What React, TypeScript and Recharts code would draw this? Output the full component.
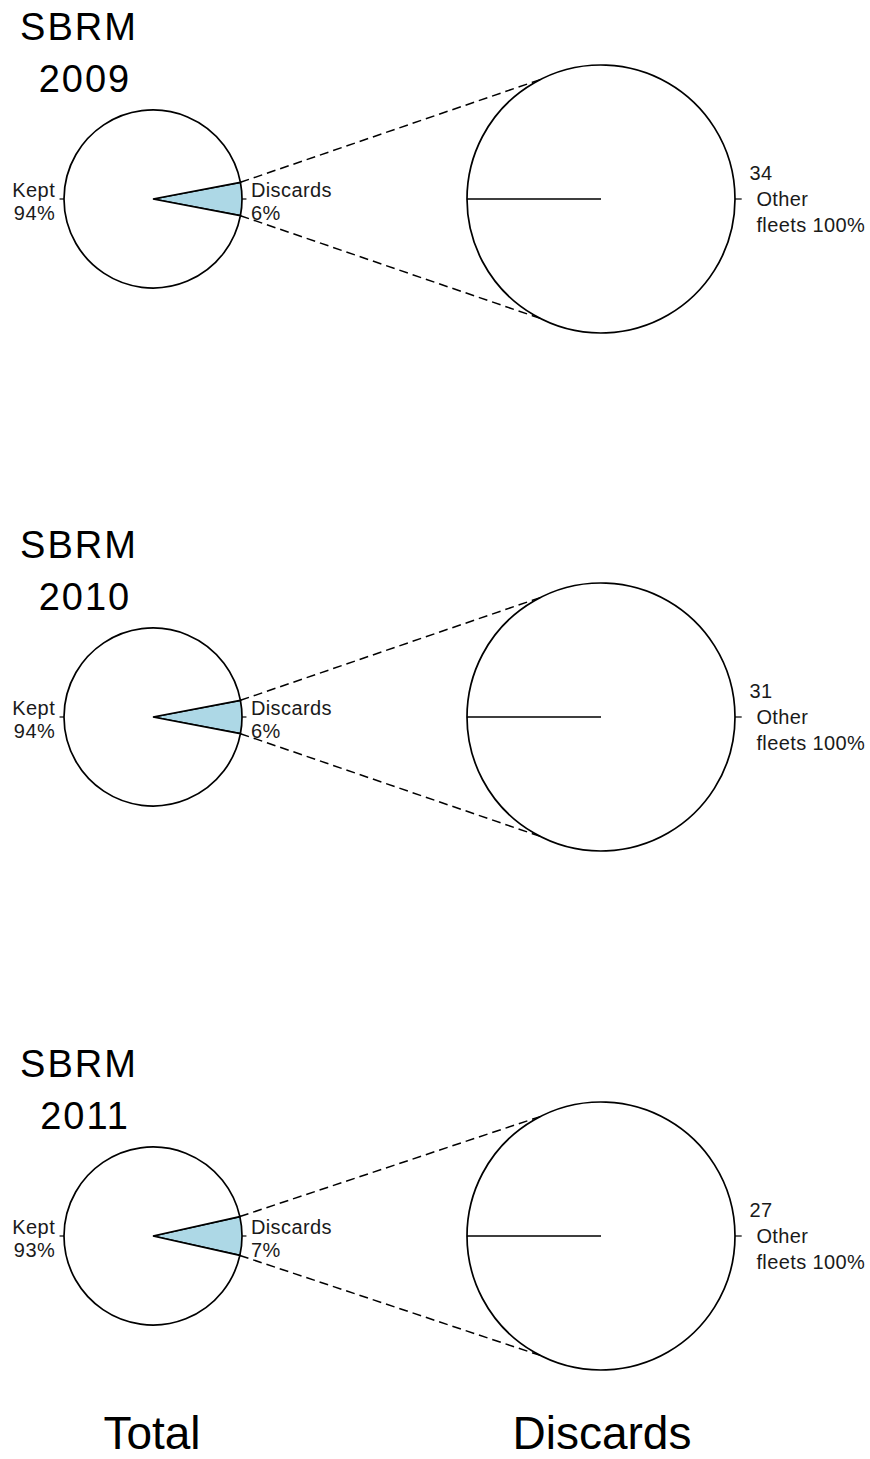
import React from "react"
import { PieChart, Pie, Cell } from "recharts"

// values
const years = ["2009", "2010", "2011"]
const keptPct = [94, 94, 93]
const discardPct = [6, 6, 7]
const discardTrips = [34, 31, 27]
const otherFleetsPct = [100, 100, 100]
const columnTitles = ["Total", "Discards"]

// layout
const W = 870
const H = 1459
const ROW_CY = [199, 717, 1236]
const SMALL_CX = 153
const SMALL_R = 89
const BIG_CX = 601
const BIG_R = 134
const LINK_ANGLE = 117
const RAD = Math.PI / 180
const FONT = "'Liberation Sans', Arial, Helvetica, sans-serif"

const polar = (cx: number, cy: number, r: number, angle: number) => ({
  x: cx + r * Math.cos(-angle * RAD),
  y: cy + r * Math.sin(-angle * RAD),
})

const renderSmallLabel = (props: any) => {
  const { cx, cy, outerRadius, midAngle, startAngle, endAngle, payload } = props
  const p1 = polar(cx, cy, outerRadius, midAngle)
  const p2 = polar(cx, cy, outerRadius * 1.05, midAngle)
  const pt = polar(cx, cy, outerRadius * 1.1, midAngle)
  const right = Math.cos(midAngle * RAD) >= 0
  const lines = [payload.name, `${payload.value}%`]
  let links = null
  if (payload.name === "Discards") {
    const top = polar(cx, cy, outerRadius, endAngle)
    const bot = polar(cx, cy, outerRadius, startAngle)
    const bigTop = polar(BIG_CX, cy, BIG_R, LINK_ANGLE)
    const bigBot = polar(BIG_CX, cy, BIG_R, -LINK_ANGLE)
    links = (
      <g stroke="#000" strokeWidth={1.5} strokeDasharray="9 5">
        <line x1={top.x} y1={top.y} x2={bigTop.x} y2={bigTop.y} />
        <line x1={bot.x} y1={bot.y} x2={bigBot.x} y2={bigBot.y} />
      </g>
    )
  }
  return (
    <g>
      {links}
      <line x1={p1.x} y1={p1.y} x2={p2.x} y2={p2.y} stroke="#000" strokeWidth={1.2} />
      <text
        x={pt.x}
        y={pt.y}
        textAnchor={right ? "start" : "end"}
        fontFamily={FONT}
        fontSize={20}
        letterSpacing={0.4}
        fill="#1a1a1a"
      >
        {lines.map((l, i) => (
          <tspan key={i} x={pt.x} y={pt.y - 2 + i * 23}>
            {l}
          </tspan>
        ))}
      </text>
    </g>
  )
}

const renderBigLabel = (props: any) => {
  const { cx, cy, outerRadius, midAngle, payload } = props
  const p1 = polar(cx, cy, outerRadius, midAngle)
  const p2 = polar(cx, cy, outerRadius * 1.05, midAngle)
  const pt = polar(cx, cy, outerRadius * 1.1, midAngle)
  const lines = [`${payload.trips}`, "Other", `fleets ${payload.value}%`]
  const shift = [1, 8, 8]
  return (
    <g>
      <line x1={p1.x} y1={p1.y} x2={p2.x} y2={p2.y} stroke="#000" strokeWidth={1.2} />
      <text
        x={pt.x}
        y={pt.y}
        textAnchor="start"
        fontFamily={FONT}
        fontSize={20}
        letterSpacing={0.4}
        fill="#1a1a1a"
      >
        {lines.map((l, i) => (
          <tspan key={i} x={pt.x + shift[i]} y={pt.y - 19 + i * 26}>
            {l}
          </tspan>
        ))}
      </text>
    </g>
  )
}

export default function App() {
  return (
    <div style={{ position: "absolute", left: 0, top: 0, width: W, height: H, background: "#fff" }}>
      <PieChart width={W} height={H} margin={{ top: 0, right: 0, bottom: 0, left: 0 }}>
        {years.map((year, i) => {
          const totalData = [
            { name: "Discards", value: discardPct[i] },
            { name: "Kept", value: keptPct[i] },
          ]
          const half = (discardPct[i] / (discardPct[i] + keptPct[i])) * 180
          const fleetData = [{ name: "Other fleets", value: otherFleetsPct[i], trips: discardTrips[i] }]
          return [
            <Pie
              key={`total-${year}`}
              data={totalData}
              dataKey="value"
              nameKey="name"
              cx={SMALL_CX}
              cy={ROW_CY[i]}
              innerRadius={0}
              outerRadius={SMALL_R}
              startAngle={-half}
              endAngle={360 - half}
              stroke="#000"
              strokeWidth={1.7}
              label={renderSmallLabel}
              labelLine={false}
              isAnimationActive={false}
            >
              <Cell fill="#add8e6" />
              <Cell fill="#ffffff" />
            </Pie>,
            <Pie
              key={`fleet-${year}`}
              data={fleetData}
              dataKey="value"
              nameKey="name"
              cx={BIG_CX}
              cy={ROW_CY[i]}
              innerRadius={0}
              outerRadius={BIG_R}
              startAngle={180}
              endAngle={540}
              stroke="#000"
              strokeWidth={1.7}
              label={renderBigLabel}
              labelLine={false}
              isAnimationActive={false}
            >
              <Cell fill="#ffffff" />
            </Pie>,
          ]
        })}
      </PieChart>
      <svg
        width={W}
        height={H}
        style={{ position: "absolute", left: 0, top: 0, pointerEvents: "none" }}
        fontFamily={FONT}
      >
        {years.map((year, i) => (
          <g key={year}>
            <text x={79} y={ROW_CY[i] - 159} textAnchor="middle" fontSize={38} letterSpacing={2} fill="#000">
              SBRM
            </text>
            <text x={85} y={ROW_CY[i] - 107} textAnchor="middle" fontSize={38} letterSpacing={2} fill="#000">
              {year}
            </text>
          </g>
        ))}
        <text x={152} y={1449} textAnchor="middle" fontSize={46} fill="#000">
          {columnTitles[0]}
        </text>
        <text x={602} y={1449} textAnchor="middle" fontSize={46} fill="#000">
          {columnTitles[1]}
        </text>
      </svg>
    </div>
  )
}
